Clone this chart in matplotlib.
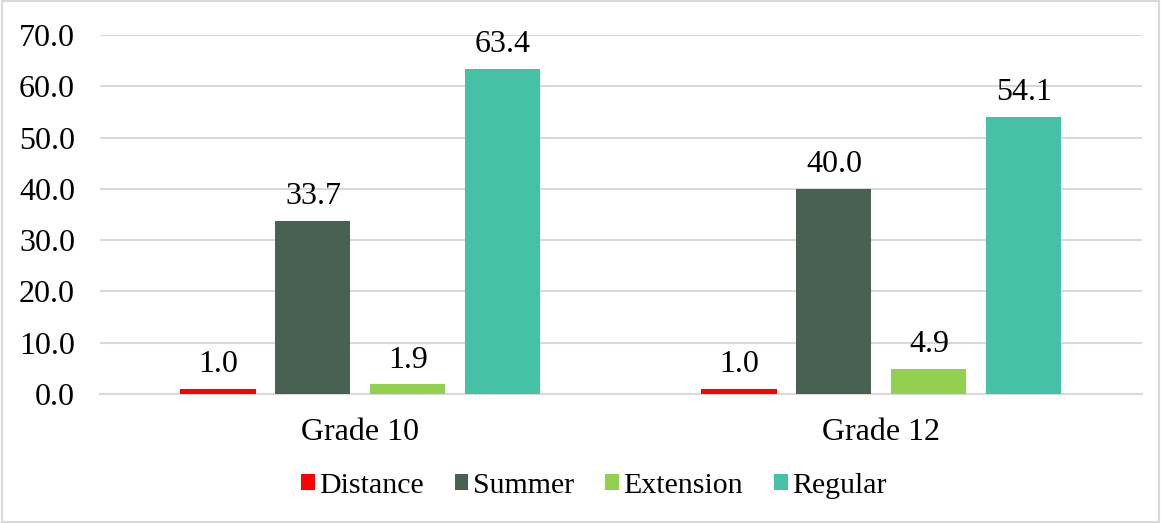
import numpy as np
import matplotlib.pyplot as plt
from matplotlib.patches import Rectangle

plt.switch_backend("Agg")

# data
grades = ["Grade 10", "Grade 12"]
series = ["Distance", "Summer", "Extension", "Regular"]
distance = [1.0, 1.0]
summer = [33.7, 40.0]
extension = [1.9, 4.9]
regular = [63.4, 54.1]
yticks = [0, 10, 20, 30, 40, 50, 60, 70]

colors = ["#FF0000", "#476152", "#92D050", "#45C2A5"]
values = [distance, summer, extension, regular]

plt.rcParams["font.family"] = ["Liberation Serif", "DejaVu Serif"]
FS = 23

fig = plt.figure(figsize=(11.61, 5.23), dpi=100)
ax = fig.add_axes([0.0861, 0.2467, 0.8975, 0.6864])

# light frame around the whole chart
fig.patches.append(Rectangle((0.002, 0.002), 0.996, 0.996, transform=fig.transFigure,
                             fill=False, edgecolor="#d9d9d9", linewidth=1.5))

x = np.arange(len(grades))
width = 0.144
step = 0.1823
offsets = (np.arange(len(series)) - 1.5) * step

for i, (name, vals, col) in enumerate(zip(series, values, colors)):
    bars = ax.bar(x + offsets[i], vals, width, color=col, label=name, zorder=3)
    for b, v in zip(bars, vals):
        ax.annotate(f"{v:.1f}", (b.get_x() + b.get_width() / 2, v),
                    xytext=(0, 7), textcoords="offset points",
                    ha="center", va="bottom", fontsize=FS, color="#000000")

ax.set_xlim(-0.5, 1.5)
ax.set_ylim(0, 70)
ax.set_yticks(yticks)
ax.set_yticklabels([f"{t:.1f}" for t in yticks], fontsize=FS)
ax.set_xticks(x)
ax.set_xticklabels(grades, fontsize=FS)
ax.tick_params(axis="y", length=0, pad=18)
ax.tick_params(axis="x", length=0, pad=17)

ax.grid(axis="y", color="#d9d9d9", linewidth=1.5, zorder=0)
for s in ["top", "right", "left"]:
    ax.spines[s].set_visible(False)
ax.spines["bottom"].set_color("#d9d9d9")
ax.spines["bottom"].set_linewidth(1.5)

ax.legend(loc="center", bbox_to_anchor=(0.474, -0.255), ncol=4, frameon=False,
          fontsize=21.5, handlelength=0.45, handleheight=0.45, handletextpad=0.15,
          columnspacing=1.05, borderaxespad=0)

plt.savefig("out.png", dpi=100)
plt.close()
